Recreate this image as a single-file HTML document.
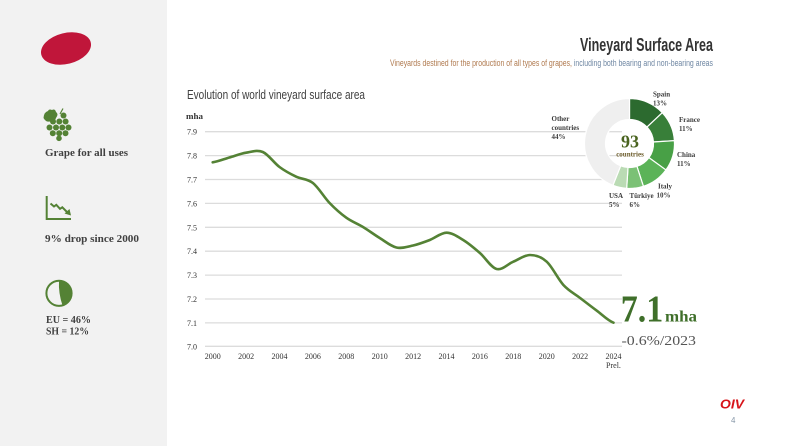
<!DOCTYPE html>
<html><head><meta charset="utf-8"><style>
html,body{margin:0;padding:0;background:#fff;}
svg{display:block;}
</style></head><body>
<svg width="793" height="446" viewBox="0 0 793 446" xmlns="http://www.w3.org/2000/svg">
<rect x="0" y="0" width="793" height="446" fill="#ffffff"/>
<rect x="0" y="0" width="167" height="446" fill="#f2f2f2"/>
<!-- red logo ellipse -->
<ellipse cx="66" cy="48.5" rx="25.5" ry="15.5" transform="rotate(-14 66 48.5)" fill="#c0163a"/>
<!-- grape icon -->
<g fill="#548235">
<path d="M43.5,118 Q44,112 48,111 Q49,108.5 52,110 Q55,108.5 56,112 Q59,114 56,118 Q55,122 50,121.5 Q46,122.5 43.5,118 Z"/>
<path d="M60,114 L63,108.5" stroke="#548235" stroke-width="1.2" fill="none"/>
<circle cx="63.5" cy="115.5" r="3"/>
<circle cx="53" cy="121.5" r="3"/><circle cx="59.3" cy="121.5" r="3"/><circle cx="65.6" cy="121.5" r="3"/>
<circle cx="49.5" cy="127.5" r="3"/><circle cx="56" cy="127.5" r="3"/><circle cx="62.3" cy="127.5" r="3"/><circle cx="68.5" cy="127.5" r="3"/>
<circle cx="52.8" cy="133.3" r="3"/><circle cx="59.2" cy="133.3" r="3"/><circle cx="65.5" cy="133.3" r="3"/>
<circle cx="59" cy="138.3" r="2.8"/>
</g>
<text x="45" y="156" font-family="Liberation Serif, serif" font-weight="bold" font-size="10.5" fill="#404040" textLength="83" lengthAdjust="spacingAndGlyphs">Grape for all uses</text>
<!-- chart icon -->
<g stroke="#548235" fill="none">
<path d="M46.7,196 L46.7,219 L71,219" stroke-width="2"/>
<path d="M50.5,203.5 L54,206.5 L56.3,204.8 L60,208.8 L62.3,207.3 L67,212" stroke-width="2"/>
</g>
<path d="M64.5,213.5 L71,215.5 L69.5,209 Z" fill="#548235"/>
<text x="45" y="242" font-family="Liberation Serif, serif" font-weight="bold" font-size="10.5" fill="#404040" textLength="94" lengthAdjust="spacingAndGlyphs">9% drop since 2000</text>
<!-- pie icon -->
<circle cx="59" cy="293.3" r="12.6" fill="#f2f2f2" stroke="#548235" stroke-width="2"/>
<path d="M59,280.7 A12.6,12.6 0 0 1 62.5,305.4 Q58.3,293 59,280.7 Z" fill="#548235"/>
<text x="46" y="323" font-family="Liberation Serif, serif" font-weight="bold" font-size="10.5" fill="#404040" textLength="45" lengthAdjust="spacingAndGlyphs">EU = 46%</text>
<text x="46" y="334.3" font-family="Liberation Serif, serif" font-weight="bold" font-size="10.5" fill="#404040" textLength="43" lengthAdjust="spacingAndGlyphs">SH = 12%</text>

<!-- titles -->
<text x="580" y="51.2" font-family="Liberation Sans, sans-serif" font-weight="bold" font-size="18" fill="#333333" textLength="133" lengthAdjust="spacingAndGlyphs">Vineyard Surface Area</text>
<text x="390" y="66" font-family="Liberation Sans, sans-serif" font-size="8.8" textLength="323" lengthAdjust="spacingAndGlyphs"><tspan fill="#b07a4f">Vineyards destined for the production of all types of grapes,</tspan><tspan fill="#6f87a3"> including both bearing and non-bearing areas</tspan></text>
<text x="187" y="99" font-family="Liberation Sans, sans-serif" font-size="12.5" fill="#404040" textLength="178" lengthAdjust="spacingAndGlyphs">Evolution of world vineyard surface area</text>

<!-- axis unit -->
<text x="186" y="119" font-family="Liberation Serif, serif" font-weight="bold" font-size="8" fill="#333" textLength="17" lengthAdjust="spacingAndGlyphs">mha</text>

<!-- gridlines -->
<g stroke="#dcdcdc" stroke-width="1.3">
<line x1="205" y1="131.7" x2="622" y2="131.7"/>
<line x1="205" y1="155.6" x2="622" y2="155.6"/>
<line x1="205" y1="179.5" x2="622" y2="179.5"/>
<line x1="205" y1="203.4" x2="622" y2="203.4"/>
<line x1="205" y1="227.3" x2="622" y2="227.3"/>
<line x1="205" y1="251.2" x2="622" y2="251.2"/>
<line x1="205" y1="275.1" x2="622" y2="275.1"/>
<line x1="205" y1="299" x2="622" y2="299"/>
<line x1="205" y1="322.9" x2="622" y2="322.9"/>
<line x1="205" y1="346.3" x2="622" y2="346.3"/>
</g>
<g font-family="Liberation Serif, serif" font-size="8" fill="#333" text-anchor="end">
<text x="197" y="134.7">7.9</text>
<text x="197" y="158.6">7.8</text>
<text x="197" y="182.5">7.7</text>
<text x="197" y="206.4">7.6</text>
<text x="197" y="230.3">7.5</text>
<text x="197" y="254.2">7.4</text>
<text x="197" y="278.1">7.3</text>
<text x="197" y="302">7.2</text>
<text x="197" y="325.9">7.1</text>
<text x="197" y="349.3">7.0</text>
</g>
<g font-family="Liberation Serif, serif" font-size="8" fill="#333" text-anchor="middle">
<text x="212.7" y="359">2000</text>
<text x="246.1" y="359">2002</text>
<text x="279.5" y="359">2004</text>
<text x="312.9" y="359">2006</text>
<text x="346.3" y="359">2008</text>
<text x="379.7" y="359">2010</text>
<text x="413.1" y="359">2012</text>
<text x="446.5" y="359">2014</text>
<text x="479.9" y="359">2016</text>
<text x="513.3" y="359">2018</text>
<text x="546.7" y="359">2020</text>
<text x="580.1" y="359">2022</text>
<text x="613.5" y="359">2024</text>
<text x="613.5" y="368">Prel.</text>
</g>

<!-- data line -->
<path fill="none" stroke="#548235" stroke-width="2.6" stroke-linecap="round" stroke-linejoin="round" d="M212.7,162.3
C218.27,161.5 223.83,159.1 229.4,157.5
C234.97,155.9 240.53,153.62 246.1,152.7
C251.67,151.78 257.23,149.62 262.8,152
C268.37,154.38 273.93,162.88 279.5,167
C285.07,171.12 290.63,174.03 296.2,176.7
C301.77,179.37 307.33,178.62 312.9,183
C318.47,187.38 324.03,197.22 329.6,203
C335.17,208.78 340.73,213.7 346.3,217.7
C351.87,221.7 357.43,223.62 363,227
C368.57,230.38 374.13,234.58 379.7,238
C385.27,241.42 390.83,246.25 396.4,247.5
C401.97,248.75 407.53,246.75 413.1,245.5
C418.67,244.25 424.23,242.13 429.8,240
C435.37,237.87 440.93,232.7 446.5,232.7
C452.07,232.7 457.63,236.62 463.2,240
C468.77,243.38 474.33,248.17 479.9,253
C485.47,257.83 491.03,267.55 496.6,269
C502.17,270.45 507.73,264.03 513.3,261.7
C518.87,259.37 524.43,255 530,255
C535.57,255 541.13,256.7 546.7,261.7
C552.27,266.7 557.83,278.95 563.4,285
C568.97,291.05 574.53,293.72 580.1,298
C585.67,302.28 591.23,306.58 596.8,310.7
C602.37,314.82 607.93,320.7 613.5,322.7"/>

<!-- big value -->
<text x="620.7" y="321.7" font-family="Liberation Serif, serif" font-weight="bold" font-size="38" fill="#3f6f2a" textLength="42.5" lengthAdjust="spacingAndGlyphs">7.1</text>
<text x="665" y="321.7" font-family="Liberation Serif, serif" font-weight="bold" font-size="16" fill="#3f6f2a" textLength="32" lengthAdjust="spacingAndGlyphs">mha</text>
<text x="621.5" y="345" font-family="Liberation Serif, serif" font-size="14" fill="#555555" textLength="74.5" lengthAdjust="spacingAndGlyphs">-0.6%/2023</text>

<!-- donut -->
<g stroke="#ffffff" stroke-width="1.2">
<path fill="#2c6a2f" d="M629.5,98.5 A45,45 0 0 1 662.30,112.70 L647.00,127.07 A24,24 0 0 0 629.5,119.5 Z"/>
<path fill="#387f39" d="M662.30,112.70 A45,45 0 0 1 674.41,140.67 L653.45,141.99 A24,24 0 0 0 647.00,127.07 Z"/>
<path fill="#48a046" d="M674.41,140.67 A45,45 0 0 1 665.91,169.95 L648.92,157.61 A24,24 0 0 0 653.45,141.99 Z"/>
<path fill="#5bb358" d="M665.91,169.95 A45,45 0 0 1 643.41,186.30 L636.92,166.33 A24,24 0 0 0 648.92,157.61 Z"/>
<path fill="#7bc175" d="M643.41,186.30 A45,45 0 0 1 626.67,188.41 L627.99,167.45 A24,24 0 0 0 636.92,166.33 Z"/>
<path fill="#badbb4" d="M626.67,188.41 A45,45 0 0 1 612.93,185.34 L620.67,165.81 A24,24 0 0 0 627.99,167.45 Z"/>
<path fill="#efefef" d="M612.93,185.34 A45,45 0 0 1 629.5,98.5 L629.5,119.5 A24,24 0 0 0 620.67,165.81 Z"/>
</g>
<text x="630" y="147.5" text-anchor="middle" font-family="Liberation Serif, serif" font-weight="bold" font-size="18" fill="#4a6420">93</text>
<text x="630" y="156.5" text-anchor="middle" font-family="Liberation Serif, serif" font-weight="bold" font-size="7" fill="#6a5a28">countries</text>
<g font-family="Liberation Serif, serif" font-weight="bold" font-size="7" fill="#3c3c3c">
<text x="653" y="96.5">Spain</text><text x="653" y="105.5">13%</text>
<text x="679" y="122">France</text><text x="679" y="131">11%</text>
<text x="677" y="157">China</text><text x="677" y="166">11%</text>
<text x="658" y="188.5">Italy</text><text x="656.5" y="197.5">10%</text>
<text x="629.5" y="198">Türkiye</text><text x="629.5" y="207">6%</text>
<text x="609" y="198">USA</text><text x="609" y="207">5%</text>
<text x="551.5" y="121">Other</text><text x="551.5" y="130">countries</text><text x="551.5" y="139">44%</text>
</g>

<!-- footer -->
<text x="720" y="408.5" font-family="Liberation Sans, sans-serif" font-weight="bold" font-style="italic" font-size="13" fill="#d7141a" textLength="24" lengthAdjust="spacingAndGlyphs">OIV</text>
<text x="731" y="423" font-family="Liberation Sans, sans-serif" font-size="8" fill="#8797a8">4</text>
</svg>
</body></html>
